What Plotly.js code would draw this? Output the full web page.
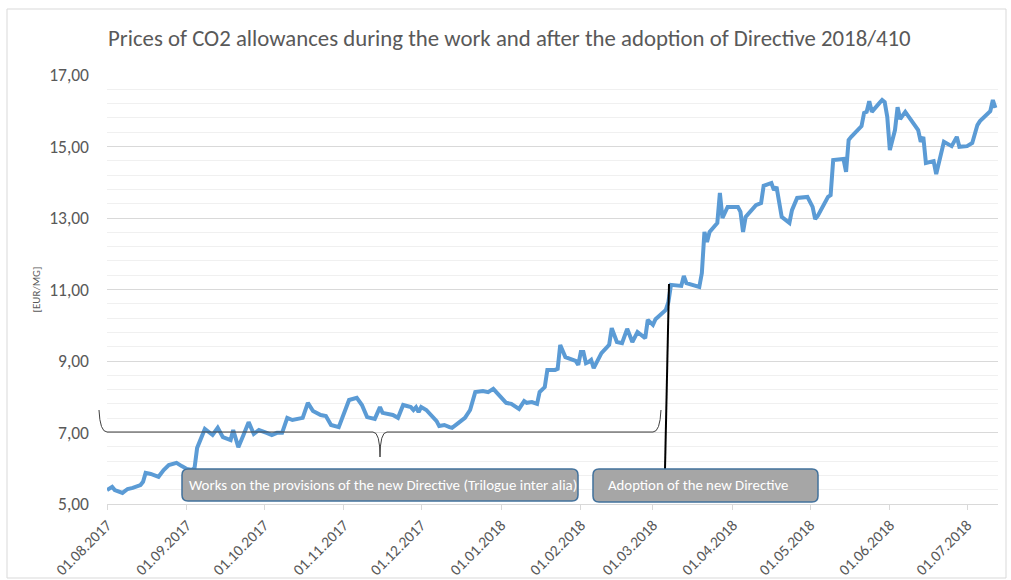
<!DOCTYPE html>
<html>
<head>
<meta charset="utf-8">
<script src="https://cdn.plot.ly/plotly-3.0.1.min.js"></script>
<style>
html,body{margin:0;padding:0;background:#fff;}
#chart{width:1011px;height:580px;}
</style>
</head>
<body>
<div id="chart"></div>
<script>
// ---- data ----
var dates = [
'2017-08-01','2017-08-03','2017-08-04','2017-08-07','2017-08-09','2017-08-11','2017-08-14','2017-08-15','2017-08-16','2017-08-18','2017-08-21','2017-08-23','2017-08-25','2017-08-28','2017-08-30',
'2017-09-01','2017-09-03','2017-09-04','2017-09-05','2017-09-08','2017-09-11','2017-09-13','2017-09-15','2017-09-18','2017-09-19','2017-09-21','2017-09-23','2017-09-25','2017-09-27','2017-09-29',
'2017-10-02','2017-10-04','2017-10-06','2017-10-08','2017-10-10','2017-10-12','2017-10-16','2017-10-18','2017-10-20','2017-10-23','2017-10-25','2017-10-27','2017-10-30','2017-10-31',
'2017-11-03','2017-11-06','2017-11-08','2017-11-10','2017-11-13','2017-11-15','2017-11-16','2017-11-20','2017-11-22','2017-11-24','2017-11-27','2017-11-28','2017-11-29','2017-11-30',
'2017-12-01','2017-12-03','2017-12-05','2017-12-07','2017-12-08','2017-12-10','2017-12-12','2017-12-13','2017-12-15','2017-12-18','2017-12-20','2017-12-22','2017-12-25','2017-12-27','2017-12-29','2017-12-31',
'2018-01-03','2018-01-05','2018-01-07','2018-01-08','2018-01-10','2018-01-11','2018-01-13','2018-01-15','2018-01-16','2018-01-18','2018-01-19','2018-01-22','2018-01-23','2018-01-24','2018-01-26','2018-01-28','2018-01-30','2018-01-31',
'2018-02-01','2018-02-02','2018-02-03','2018-02-04','2018-02-05','2018-02-06','2018-02-09','2018-02-12','2018-02-13','2018-02-15','2018-02-17','2018-02-19','2018-02-21','2018-02-23','2018-02-26','2018-02-27',
'2018-03-01','2018-03-02','2018-03-06','2018-03-07','2018-03-08','2018-03-12','2018-03-13','2018-03-14','2018-03-16','2018-03-19','2018-03-20','2018-03-21','2018-03-22','2018-03-23','2018-03-26','2018-03-27','2018-03-28','2018-03-30',
'2018-04-03','2018-04-04','2018-04-05','2018-04-06','2018-04-10','2018-04-12','2018-04-13','2018-04-16','2018-04-17','2018-04-18','2018-04-20','2018-04-23','2018-04-24','2018-04-26','2018-04-30',
'2018-05-02','2018-05-03','2018-05-04','2018-05-08','2018-05-09','2018-05-10','2018-05-14','2018-05-15','2018-05-16','2018-05-17','2018-05-19','2018-05-21','2018-05-22','2018-05-23','2018-05-24','2018-05-25','2018-05-28','2018-05-29','2018-05-30','2018-05-31',
'2018-06-01','2018-06-03','2018-06-04','2018-06-05','2018-06-07','2018-06-10','2018-06-12','2018-06-13','2018-06-14','2018-06-15','2018-06-18','2018-06-19','2018-06-22','2018-06-25','2018-06-27','2018-06-28',
'2018-07-01','2018-07-03','2018-07-05','2018-07-06','2018-07-09','2018-07-10','2018-07-11','2018-07-12'
];
var prices = [
5.39,5.48,5.39,5.31,5.42,5.45,5.53,5.62,5.87,5.84,5.76,5.95,6.09,6.15,6.06,
5.98,5.95,6.01,6.57,7.10,6.93,7.13,6.87,6.79,7.07,6.59,6.93,7.29,6.96,7.07,
6.99,6.93,6.99,6.99,7.41,7.35,7.41,7.83,7.60,7.49,7.46,7.21,7.15,7.35,
7.91,7.97,7.77,7.43,7.38,7.71,7.55,7.49,7.41,7.77,7.71,7.63,7.71,7.57,
7.71,7.63,7.49,7.32,7.18,7.21,7.15,7.13,7.24,7.41,7.63,8.13,8.16,8.13,8.22,8.05,
7.83,7.80,7.71,7.66,7.88,7.83,7.85,7.80,8.13,8.27,8.75,8.75,8.78,9.45,9.11,9.06,9.00,8.89,
9.25,9.25,8.94,8.97,9.03,8.80,9.22,9.45,9.92,9.53,9.50,9.90,9.53,9.81,9.64,10.15,
10.01,10.17,10.43,10.65,11.13,11.10,11.38,11.18,11.13,11.07,11.46,12.61,12.33,12.61,12.86,13.70,13.00,13.31,
13.31,13.17,12.61,13.03,13.36,13.42,13.90,13.98,13.78,13.87,13.03,12.86,13.22,13.56,13.59,
13.31,12.97,13.06,13.59,13.64,14.62,14.65,14.29,15.18,15.27,15.41,15.57,15.94,15.97,16.27,15.97,16.22,16.30,16.24,15.83,
14.90,15.46,16.10,15.77,15.97,15.69,15.46,15.13,15.27,14.54,14.59,14.23,15.13,15.01,15.27,14.99,
15.01,15.10,15.60,15.71,15.94,15.99,16.30,16.08
];
var tickDates = ['2017-08-01','2017-09-01','2017-10-01','2017-11-01','2017-12-01','2018-01-01',
                 '2018-02-01','2018-03-01','2018-04-01','2018-05-01','2018-06-01','2018-07-01'];
var titleText = 'Prices of CO2 allowances during the work and after the adoption of Directive 2018/410';
var yTitle = '[EUR/MG]';
var box1Text = 'Works on the provisions of the new Directive (Trilogue inter alia)';
var box2Text = 'Adoption of the new Directive';

// ---- layout helpers (page pixels -> paper coords) ----
var L = 107, T = 75, W = 891, H = 429;
function PX(x){ return (x - L) / W; }
function PY(y){ return (T + H - y) / H; }
function f(n){ return n.toFixed(5); }
function roundRect(x0, y0, x1, y1, r){
  var rx = r / W, ry = r / H;
  var a = PX(x0), b = PX(x1), top = PY(y0), bot = PY(y1);
  return 'M ' + f(a + rx) + ',' + f(top) +
    ' L ' + f(b - rx) + ',' + f(top) +
    ' Q ' + f(b) + ',' + f(top) + ' ' + f(b) + ',' + f(top - ry) +
    ' L ' + f(b) + ',' + f(bot + ry) +
    ' Q ' + f(b) + ',' + f(bot) + ' ' + f(b - rx) + ',' + f(bot) +
    ' L ' + f(a + rx) + ',' + f(bot) +
    ' Q ' + f(a) + ',' + f(bot) + ' ' + f(a) + ',' + f(bot + ry) +
    ' L ' + f(a) + ',' + f(top - ry) +
    ' Q ' + f(a) + ',' + f(top) + ' ' + f(a + rx) + ',' + f(top) + ' Z';
}
function P(x, y){ return f(PX(x)) + ',' + f(PY(y)); }
var bracePath = 'M ' + P(99, 410) +
  ' Q ' + P(100, 432) + ' ' + P(107, 432) +
  ' L ' + P(373, 432) +
  ' Q ' + P(380, 432) + ' ' + P(380, 457) +
  ' Q ' + P(380, 432) + ' ' + P(387, 432) +
  ' L ' + P(653, 432) +
  ' Q ' + P(660, 432) + ' ' + P(661, 410);

var FONT = 'Carlito, Calibri, Lato, "Open Sans", sans-serif';
var GREY = '#595959';

var trace = {
  x: dates, y: prices, type: 'scatter', mode: 'lines',
  line: {color: '#5B9BD5', width: 4, shape: 'linear'},
  hoverinfo: 'x+y', showlegend: false
};

var layout = {
  width: 1011, height: 580,
  margin: {l: L, r: 1011 - L - W, t: T, b: 580 - T - H},
  paper_bgcolor: '#ffffff', plot_bgcolor: '#ffffff',
  separators: ', ',
  font: {family: FONT, color: GREY},
  title: {
    text: titleText, x: 108 / 1011, xref: 'container', xanchor: 'left',
    y: 1 - 38 / 580, yref: 'container', yanchor: 'middle',
    font: {family: FONT, size: 22.8, color: GREY}
  },
  xaxis: {
    type: 'date', range: ['2017-08-01', '2018-07-13'],
    tickmode: 'array', tickvals: tickDates, tickformat: '%d.%m.%Y',
    tickangle: -45, tickfont: {family: FONT, size: 15.5, color: GREY},
    ticks: 'outside', ticklen: 5, tickcolor: '#d9d9d9', tickwidth: 1,
    showline: true, linecolor: '#d9d9d9', linewidth: 1,
    showgrid: false, zeroline: false, fixedrange: true
  },
  yaxis: {
    range: [5, 17], tick0: 5, dtick: 2, tickformat: '.2f',
    tickfont: {family: FONT, size: 17.5, color: GREY},
    ticks: '', ticklabelstandoff: 17,
    showgrid: true, gridcolor: '#d9d9d9', gridwidth: 1,
    minor: {tick0: 5, dtick: 0.4, showgrid: true, gridcolor: '#f0f0f0', gridwidth: 1},
    zeroline: false, showline: false, fixedrange: true,
    title: {text: yTitle, standoff: 6, font: {family: FONT, size: 11, color: GREY}}
  },
  shapes: [
    {type: 'rect', xref: 'paper', yref: 'paper', x0: PX(7), x1: PX(1006), y0: PY(9), y1: PY(578),
     line: {color: '#d9d9d9', width: 1}, fillcolor: 'rgba(0,0,0,0)', layer: 'below'},
    {type: 'path', xref: 'paper', yref: 'paper', path: bracePath,
     line: {color: '#404040', width: 1}},
    {type: 'line', xref: 'paper', yref: 'paper', x0: PX(669), y0: PY(284), x1: PX(665), y1: PY(469),
     line: {color: '#000000', width: 2}},
    {type: 'path', xref: 'paper', yref: 'paper', path: roundRect(182, 469, 578, 501, 6),
     fillcolor: '#a6a6a6', line: {color: '#41719c', width: 1.5}},
    {type: 'path', xref: 'paper', yref: 'paper', path: roundRect(593, 469, 818, 502, 6),
     fillcolor: '#a6a6a6', line: {color: '#41719c', width: 1.5}}
  ],
  annotations: [
    {text: box1Text, xref: 'paper', yref: 'paper', x: PX(187), y: PY(485), xanchor: 'left', yanchor: 'middle',
     showarrow: false, font: {family: FONT, size: 14.9, color: '#ffffff'}},
    {text: box2Text, xref: 'paper', yref: 'paper', x: PX(606), y: PY(485), xanchor: 'left', yanchor: 'middle',
     showarrow: false, font: {family: FONT, size: 14.8, color: '#ffffff'}}
  ]
};

Plotly.newPlot('chart', [trace], layout, {displayModeBar: false, staticPlot: true});
</script>
</body>
</html>
